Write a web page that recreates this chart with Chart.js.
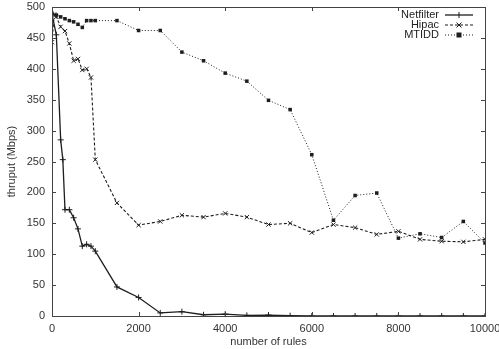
<!DOCTYPE html>
<html>
<head>
<meta charset="utf-8">
<script src="https://cdn.jsdelivr.net/npm/chart.js@4.4.1/dist/chart.umd.min.js"></script>
<style>
  html, body { margin: 0; padding: 0; background: #fff; }
  #wrap { width: 499px; height: 349px; }
</style>
</head>
<body>
<div id="wrap"><canvas id="chart" width="499" height="349"></canvas></div>
<script>
// --- DATA ---
const seriesNames = ['Netfilter', 'Hipac', 'MTIDD'];

const netfilterRules = [0, 100, 200, 250, 300, 400, 500, 600, 700, 800, 900, 1000, 1500, 2000, 2500, 3000, 3500, 4000, 4500, 5000, 5500, 6000, 6500, 7000, 7500, 8000, 8500, 9000, 9500, 10000];
const netfilterThru = [488, 455, 285, 253, 172, 172, 159, 141, 113, 116, 113, 105, 47, 30, 5, 7, 2, 3, 1, 1.5, 0.5, 0, 0, 0, 0, 0, 0, 0, 0, 0];

const hipacRules = [0, 50, 100, 200, 300, 400, 500, 600, 700, 800, 900, 1000, 1500, 2000, 2500, 3000, 3500, 4000, 4500, 5000, 5500, 6000, 6500, 7000, 7500, 8000, 8500, 9000, 9500, 10000];
const hipacThru = [443, 488, 484, 468, 461, 441, 413, 416, 398, 400, 386, 253, 183, 147, 153, 163, 160, 166, 160, 148, 150, 135, 148, 143, 132, 137, 124, 121, 120, 124];

const mtiddRules = [0, 100, 200, 300, 400, 500, 600, 700, 800, 900, 1000, 1500, 2000, 2500, 3000, 3500, 4000, 4500, 5000, 5500, 6000, 6500, 7000, 7500, 8000, 8500, 9000, 9500, 10000];
const mtiddThru = [490, 487, 484, 481, 478, 476, 472, 467, 478, 478, 478, 478, 462, 462, 427, 413, 393, 380, 349, 334, 261, 155, 195, 199, 126, 133, 127, 153, 118];

const yTicks = [0, 50, 100, 150, 200, 250, 300, 350, 400, 450, 500];
const xTicks = [0, 2000, 4000, 6000, 8000, 10000];

const toPoints = (xs, ys) => xs.map((x, i) => ({ x: x, y: ys[i] }));

// --- STYLE ---
const ink = '#1e1e1e';
const fontFamily = "'Liberation Sans', Arial, Helvetica, sans-serif";

// frame + inward ticks + legend, gnuplot style
const gnuplotFrame = {
    id: 'gnuplotFrame',
    afterDraw(chart) {
        const { ctx, chartArea: a, scales: { x, y } } = chart;
        ctx.save();
        ctx.strokeStyle = '#444';
        ctx.lineWidth = 1;
        ctx.setLineDash([]);
        ctx.strokeRect(Math.round(a.left) + 0.5, Math.round(a.top) + 0.5, Math.round(a.right - a.left), Math.round(a.bottom - a.top));
        const t = 4;
        ctx.beginPath();
        yTicks.forEach(v => {
            const py = Math.round(y.getPixelForValue(v)) + 0.5;
            ctx.moveTo(a.left, py); ctx.lineTo(a.left + t, py);
            ctx.moveTo(a.right, py); ctx.lineTo(a.right - t, py);
        });
        xTicks.forEach(v => {
            const px = Math.round(x.getPixelForValue(v)) + 0.5;
            ctx.moveTo(px, a.bottom); ctx.lineTo(px, a.bottom - t);
            ctx.moveTo(px, a.top); ctx.lineTo(px, a.top + t);
        });
        ctx.stroke();

        // legend: text right aligned, line sample to the right
        ctx.font = '11px ' + fontFamily;
        ctx.textAlign = 'right';
        ctx.textBaseline = 'middle';
        chart.data.datasets.forEach((ds, i) => {
            const ly = 15 + i * 10;
            ctx.fillStyle = '#222';
            ctx.fillText(ds.label, 439, ly);
            ctx.strokeStyle = ds.borderColor;
            ctx.lineWidth = ds.borderWidth;
            ctx.setLineDash(ds.borderDash || []);
            ctx.beginPath();
            ctx.moveTo(445, ly); ctx.lineTo(473, ly);
            ctx.stroke();
            ctx.setLineDash([]);
            const cx = 459;
            ctx.lineWidth = 1;
            if (ds.pointStyle === 'rect') {
                ctx.fillStyle = ink;
                ctx.fillRect(cx - 2.5, ly - 2.5, 5, 5);
            } else if (ds.pointStyle === 'crossRot') {
                ctx.beginPath();
                ctx.moveTo(cx - 2.5, ly - 2.5); ctx.lineTo(cx + 2.5, ly + 2.5);
                ctx.moveTo(cx - 2.5, ly + 2.5); ctx.lineTo(cx + 2.5, ly - 2.5);
                ctx.stroke();
            } else {
                ctx.beginPath();
                ctx.moveTo(cx, ly - 3); ctx.lineTo(cx, ly + 3);
                ctx.stroke();
            }
        });
        ctx.restore();
    }
};

const ctx = document.getElementById('chart').getContext('2d');
new Chart(ctx, {
    type: 'line',
    data: {
        datasets: [
            {
                label: seriesNames[0], data: toPoints(netfilterRules, netfilterThru),
                borderColor: ink, backgroundColor: ink, borderWidth: 1.3,
                pointStyle: 'cross', pointRadius: 3, pointBorderWidth: 1, pointBorderColor: ink
            },
            {
                label: seriesNames[1], data: toPoints(hipacRules, hipacThru),
                borderColor: ink, backgroundColor: ink, borderWidth: 1.1, borderDash: [3, 2],
                pointStyle: 'crossRot', pointRadius: 3, pointBorderWidth: 1, pointBorderColor: ink
            },
            {
                label: seriesNames[2], data: toPoints(mtiddRules, mtiddThru),
                borderColor: ink, backgroundColor: ink, borderWidth: 1, borderDash: [1, 2],
                pointStyle: 'rect', pointRadius: 2.5, pointBorderWidth: 0, pointBackgroundColor: ink
            }
        ]
    },
    options: {
        responsive: false,
        animation: false,
        layout: { padding: { top: 7, right: 14, left: 5, bottom: 0 } },
        plugins: { legend: { display: false }, tooltip: { enabled: false } },
        elements: { line: { tension: 0 } },
        scales: {
            x: {
                type: 'linear', min: 0, max: 10000,
                grid: { display: false, drawTicks: false }, border: { display: false },
                afterBuildTicks: s => { s.ticks = xTicks.map(v => ({ value: v })); },
                ticks: { color: '#333', padding: 6, maxRotation: 0, callback: v => String(v), font: { family: fontFamily, size: 11 } },
                title: { display: true, text: 'number of rules', color: '#333', padding: { top: 0, bottom: 0 }, font: { family: fontFamily, size: 11 } },
                afterFit: s => { s.height = 33; s.paddingRight = 0; s.paddingLeft = 0; }
            },
            y: {
                type: 'linear', min: 0, max: 500,
                grid: { display: false, drawTicks: false }, border: { display: false },
                afterBuildTicks: s => { s.ticks = yTicks.map(v => ({ value: v })); },
                ticks: { color: '#333', padding: 7, font: { family: fontFamily, size: 11 } },
                title: { display: true, text: 'thruput (Mbps)', color: '#333', padding: 0, font: { family: fontFamily, size: 11 } },
                afterFit: s => { s.width = 47; s.paddingTop = 0; s.paddingBottom = 0; }
            }
        }
    },
    plugins: [gnuplotFrame]
});
</script>
</body>
</html>
